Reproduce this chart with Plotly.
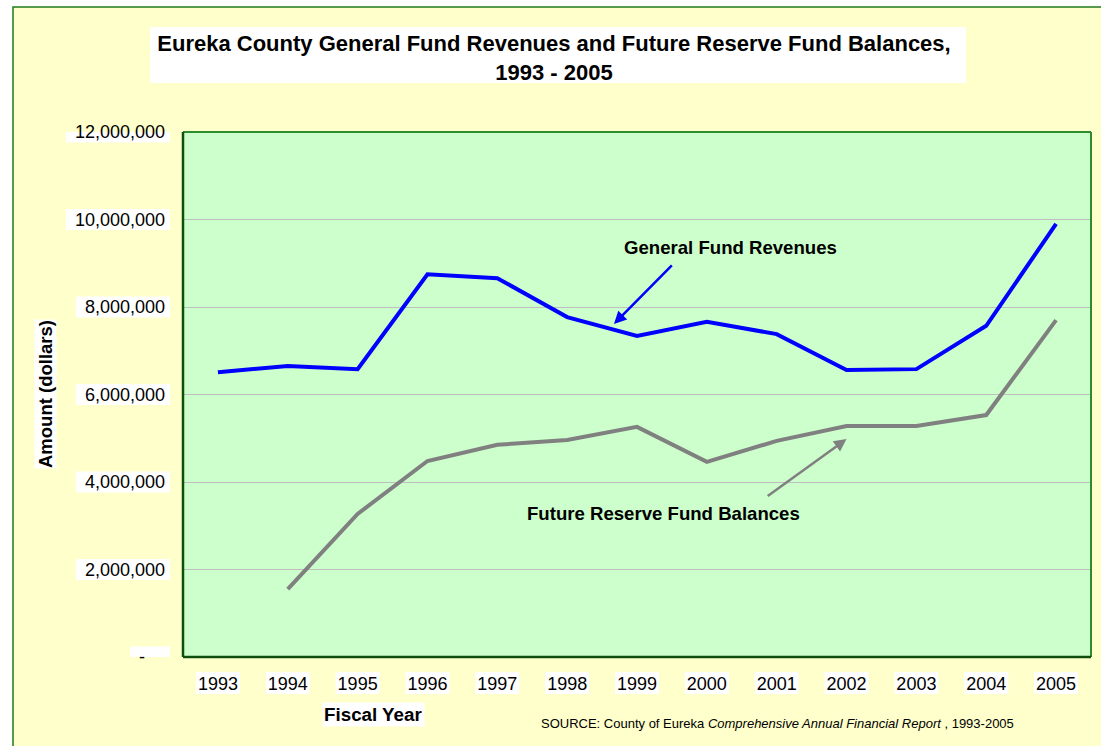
import plotly.graph_objects as go

# ---------------- data ----------------
years = [1993, 1994, 1995, 1996, 1997, 1998, 1999, 2000, 2001, 2002, 2003, 2004, 2005]
general_fund_revenues = [6510000, 6650000, 6580000, 8750000, 8660000, 7770000, 7340000,
                         7660000, 7380000, 6560000, 6580000, 7570000, 9900000]
reserve_years = [1994, 1995, 1996, 1997, 1998, 1999, 2000, 2001, 2002, 2003, 2004, 2005]
future_reserve_balances = [1550000, 3270000, 4480000, 4850000, 4960000, 5260000, 4460000,
                           4940000, 5280000, 5280000, 5530000, 7700000]
y_tick_values = [0, 2000000, 4000000, 6000000, 8000000, 10000000, 12000000]
y_tick_labels = ["-\u00a0\u00a0\u00a0\u00a0", "2,000,000", "4,000,000", "6,000,000",
                 "8,000,000", "10,000,000", "12,000,000"]
x_tick_labels = [str(y) for y in years]

# ---------------- layout geometry (pixels) ----------------
W, H = 1101, 746
L, R, T, B = 183, 10, 132, 89
PW, PH = W - L - R, H - T - B
FONT = "Liberation Sans, Arial, sans-serif"


def px(xp):
    return (xp - L) / PW


def py(yp):
    return (H - B - yp) / PH


CW = {str(d): 0.556 for d in range(10)}
CW.update({",": 0.278, "-": 0.333, "\u00a0": 0.278})


def text_w(s, size):
    return sum(CW.get(c, 0.556) for c in s) * size


fig = go.Figure()

fig.add_trace(go.Scatter(
    x=years, y=general_fund_revenues, mode="lines", name="General Fund Revenues",
    line=dict(color="#0000FF", width=4), showlegend=False, hoverinfo="x+y"))
fig.add_trace(go.Scatter(
    x=reserve_years, y=future_reserve_balances, mode="lines", name="Future Reserve Fund Balances",
    line=dict(color="#808080", width=4), showlegend=False, hoverinfo="x+y"))

shapes = []
# outer chart area (yellow with green border, cut off at right/bottom)
shapes.append(dict(type="rect", xref="paper", yref="paper", layer="below",
                   x0=px(13), x1=px(W + 20), y0=py(H + 20), y1=py(7),
                   fillcolor="#FFFFCC", line=dict(color="#1E7B1E", width=1.5)))
# title white box
shapes.append(dict(type="rect", xref="paper", yref="paper", layer="below",
                   x0=px(150), x1=px(966), y0=py(83), y1=py(27),
                   fillcolor="white", line=dict(width=0)))
# white boxes behind y tick labels
for v, lab in zip(y_tick_values, y_tick_labels):
    w = text_w(lab, 18)
    shapes.append(dict(type="rect", xref="paper", yref="y", layer="below",
                       xsizemode="pixel", xanchor=0, x0=-(27 + w), x1=-13,
                       ysizemode="pixel", yanchor=v, y0=-10.5, y1=10.5,
                       fillcolor="white", line=dict(width=0)))
# white boxes behind x tick labels
for yr in years:
    shapes.append(dict(type="rect", xref="x", yref="paper", layer="below",
                       xsizemode="pixel", xanchor=yr, x0=-22, x1=22,
                       ysizemode="pixel", yanchor=0, y0=-37, y1=-15,
                       fillcolor="white", line=dict(width=0)))
# plot area fill
shapes.append(dict(type="rect", xref="paper", yref="paper", layer="below",
                   x0=0, x1=1, y0=0, y1=1, fillcolor="#CCFFCC", line=dict(width=0)))
# plot area border
shapes.append(dict(type="line", xref="paper", yref="paper", layer="above",
                   x0=0, x1=1, y0=1, y1=1, line=dict(color="#2E8B2E", width=2)))
shapes.append(dict(type="line", xref="paper", yref="paper", layer="above",
                   x0=1, x1=1, y0=0, y1=1, line=dict(color="#2E8B2E", width=2)))
shapes.append(dict(type="line", xref="paper", yref="paper", layer="above",
                   x0=0, x1=1, y0=0, y1=0, line=dict(color="#0E4F0E", width=2.5)))
shapes.append(dict(type="line", xref="paper", yref="paper", layer="above",
                   x0=0, x1=0, y0=0, y1=1, line=dict(color="#0E4F0E", width=2.5)))

annotations = [
    # series labels
    dict(text="<b>General Fund Revenues</b>", x=2000.34, y=9371000, xref="x", yref="y",
         showarrow=False, xanchor="center", yanchor="middle",
         font=dict(family=FONT, size=18.6, color="black")),
    dict(text="", x=1998.67, y=7611000, ax=1999.52, ay=8983000, xref="x", yref="y",
         axref="x", ayref="y", showarrow=True, arrowhead=2, arrowsize=1,
         arrowwidth=2.5, arrowcolor="#0000FF"),
    dict(text="<b>Future Reserve Fund Balances</b>", x=1999.38, y=3269000, xref="x", yref="y",
         showarrow=False, xanchor="center", yanchor="middle",
         font=dict(family=FONT, size=18.6, color="black")),
    dict(text="", x=2002.0, y=4983000, ax=2000.85, ay=3657000, xref="x", yref="y",
         axref="x", ayref="y", showarrow=True, arrowhead=2, arrowsize=1,
         arrowwidth=2.5, arrowcolor="#808080"),
    # axis titles
    dict(text="<b>Fiscal Year</b>", x=px(373), y=py(714.5), xref="paper", yref="paper",
         xanchor="center", yanchor="middle",
         showarrow=False, bgcolor="white", borderpad=1,
         font=dict(family=FONT, size=18.8, color="black")),
    dict(text="<b>Amount (dollars)</b>", x=px(45), y=py(394), xref="paper", yref="paper",
         xanchor="center", yanchor="middle",
         showarrow=False, textangle=-90, bgcolor="white", borderpad=0,
         font=dict(family=FONT, size=18.5, color="black")),
    # source
    dict(text="SOURCE: County of Eureka <i>Comprehensive Annual Financial Report</i> , 1993-2005",
         x=px(539), y=py(723), xref="paper", yref="paper", xanchor="left", yanchor="middle",
         showarrow=False, font=dict(family=FONT, size=13, color="black")),
]

fig.update_layout(
    width=W, height=H,
    margin=dict(l=L, r=R, t=T, b=B, pad=0),
    paper_bgcolor="white",
    plot_bgcolor="rgba(0,0,0,0)",
    title=dict(text="Eureka County General Fund Revenues and Future Reserve Fund Balances,<br>1993 - 2005",
               x=px(554), xref="paper", xanchor="center",
               y=1 - 51 / H, yref="container", yanchor="middle",
               font=dict(family=FONT, size=22, color="black", weight="bold")),
    shapes=shapes,
    annotations=annotations,
    showlegend=False,
    font=dict(family=FONT, size=18, color="black"),
)

fig.update_xaxes(range=[1992.5, 2005.5], tickvals=years, ticktext=x_tick_labels,
                 showgrid=False, zeroline=False, showline=False, ticks="",
                 ticklabelstandoff=14, tickfont=dict(family=FONT, size=18, color="black"),
                 fixedrange=True)
fig.update_yaxes(range=[0, 12000000], tickvals=y_tick_values, ticktext=y_tick_labels,
                 showgrid=True, gridcolor="#BFBFBF", gridwidth=1, zeroline=False,
                 showline=False, ticks="", ticklabelstandoff=17,
                 tickfont=dict(family=FONT, size=18, color="black"), fixedrange=True)

fig.write_html("out.html", config={"displayModeBar": False},
               post_script="document.body.style.margin='0';document.body.style.overflow='hidden';")
